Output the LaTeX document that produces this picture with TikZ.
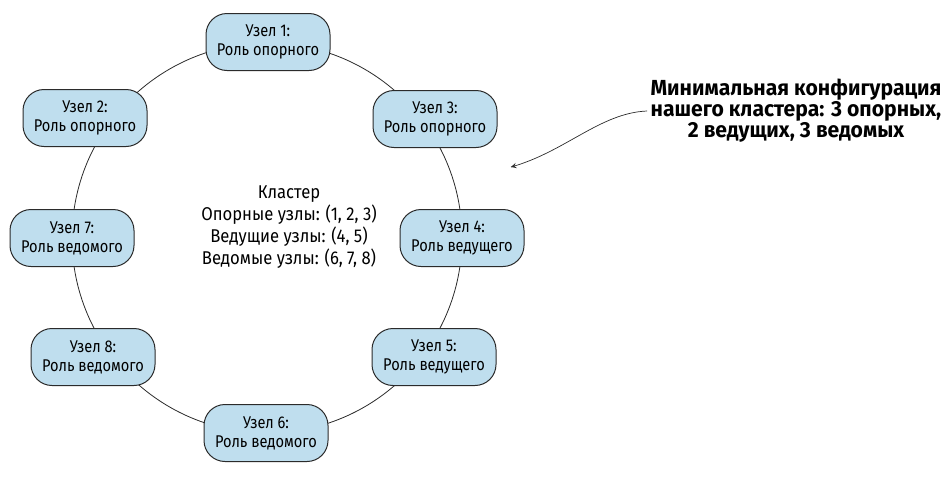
\documentclass[tikz,border=0pt]{standalone}
\usepackage{fontspec}
\setmainfont{Fira Sans}[FakeStretch=0.86]
\newfontfamily\clusterfont{Fira Sans}[FakeStretch=0.9]
\newfontfamily\notefont{Fira Sans}[FakeStretch=0.97]
\usepackage{tikz}
\usetikzlibrary{shapes,arrows}
\usetikzlibrary{arrows,decorations.markings}
\definecolor{nodeColor}{HTML}{BFDEEE}
\definecolor{lineColor}{HTML}{2B2B2B}
\tikzstyle{roundrect}=[rectangle, rounded corners=21pt, minimum width=124pt, minimum height=57pt, text centered, draw=lineColor, line width=1pt, fill=nodeColor, font=\fontsize{17}{19}\selectfont, align=center, inner sep=1pt]
\tikzstyle{note}=[text centered, align=center, font=\notefont\fontsize{21.8}{21}\selectfont\bfseries]
\tikzstyle{arrow} = [decoration={markings,mark=at position 1 with
	{\arrow[scale=1.4,>=stealth]{>}}},postaction={decorate}]

\begin{document}
\begin{tikzpicture}[x=1pt, y=-1pt]
			\useasboundingbox (0,0) rectangle (945,477);
			
			% ring of the cluster
			\draw [lineColor, line width=0.8pt] (267,238) circle (195);
			
			\node (node1) [roundrect] at (268,42) {Узел 1:\\Роль опорного};
			\node (node2) [roundrect] at (85,118) {Узел 2:\\Роль опорного};
			\node (node3) [roundrect] at (435,119) {Узел 3:\\Роль опорного};
			\node (node4) [roundrect] at (462,238) {Узел 4:\\Роль ведущего};
			\node (node5) [roundrect] at (434,357) {Узел 5:\\Роль ведущего};
			\node (node6) [roundrect] at (266,433) {Узел 6:\\Роль ведомого};
			\node (node7) [roundrect] at (72,238) {Узел 7:\\Роль ведомого};
			\node (node8) [roundrect] at (93,357) {Узел 8:\\Роль ведомого};
			
			\node (cluster) [text centered, align=center, font=\clusterfont\fontsize{18.5}{22}\selectfont] at (289,227) {
				Кластер\\
				Опорные узлы: (1, 2, 3)\\
				Ведущие узлы: (4, 5)\\
				Ведомые узлы: (6, 7, 8)};
			
			\node (minimal) [note] at (796,111) {
				Минимальная конфигурация\\
				нашего кластера: 3 опорных,\\
				2 ведущих, 3 ведомых};
			\coordinate (target) at (511,167);
			
			\draw [arrow, lineColor, line width=0.7pt] (minimal.west |- 0,111) .. controls (600,113) and (565,152) .. (target);
			
			\end{tikzpicture}
\end{document}
